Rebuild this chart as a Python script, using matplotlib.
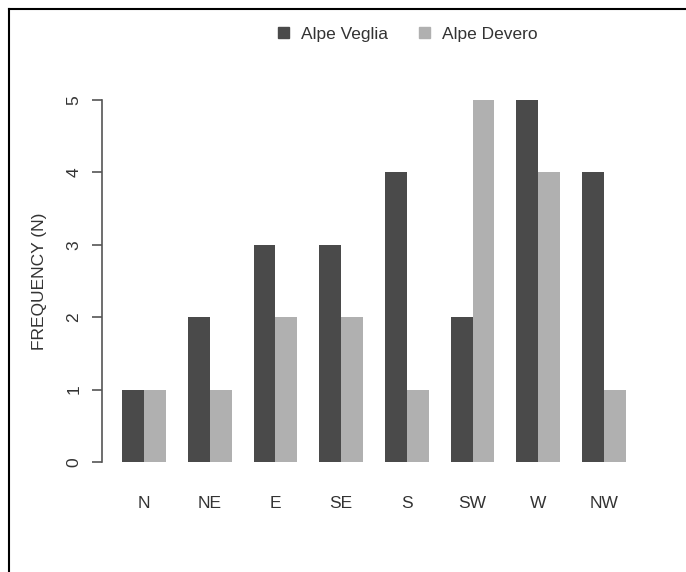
import matplotlib.pyplot as plt
import matplotlib.patches as mpatches
from matplotlib.lines import Line2D
import numpy as np

plt.rcParams['font.family'] = ['Liberation Sans', 'DejaVu Sans']

# Data
directions = ['N', 'NE', 'E', 'SE', 'S', 'SW', 'W', 'NW']
veglia = [1, 2, 3, 3, 4, 2, 5, 4]
devero = [1, 1, 2, 2, 1, 5, 4, 1]
series_names = ['Alpe Veglia', 'Alpe Devero']

dark = '#4a4a4a'
light = '#b0b0b0'
text_color = '#333333'

W, H = 686, 572
fig = plt.figure(figsize=(W / 100, H / 100), dpi=100)

# axes placed in pixel terms (R-like barplot region)
left_px, right_px = 102, 646
top_px, bot_px = 85.5, 476.5
ax = fig.add_axes([left_px / W, 1 - bot_px / H,
                   (right_px - left_px) / W, (bot_px - top_px) / H])

# R barplot beside=TRUE, space=c(0,1): bar width 1, gap of 1 between groups
n = len(directions)
group_start = 1 + 3 * np.arange(n)
ax.bar(group_start, veglia, width=1, align='edge', color=dark, linewidth=0)
ax.bar(group_start + 1, devero, width=1, align='edge', color=light, linewidth=0)

ax.set_xlim(0.08, 24.92)
ax.set_ylim(-0.2, 5.2)

for s in ['top', 'right', 'bottom']:
    ax.spines[s].set_visible(False)
ax.spines['left'].set_bounds(0, 5)
ax.spines['left'].set_color('#555555')
ax.spines['left'].set_linewidth(1.2)

ax.set_yticks(range(6))
ax.set_yticklabels([str(i) for i in range(6)], rotation=90, va='center',
                   fontsize=12.5, color=text_color)
ax.tick_params(axis='y', length=7, width=1.2, color='#555555', pad=8)

ax.set_xticks(group_start + 1)
ax.set_xticklabels(directions, fontsize=12.5, color=text_color)
ax.tick_params(axis='x', length=0, pad=14)

ax.set_ylabel('FREQUENCY (N)', fontsize=12.5, color=text_color, labelpad=14)

# legend across the top
handles = [mpatches.Patch(color=dark, label=series_names[0]),
           mpatches.Patch(color=light, label=series_names[1])]
fig.legend(handles=handles, loc='center', bbox_to_anchor=(408 / W, 1 - 34 / H),
           ncol=2, frameon=False, fontsize=12.5, handlelength=0.6,
           handleheight=0.6, handletextpad=0.7, columnspacing=1.8,
           labelcolor=text_color)

# frame lines along top and left edge
fig.add_artist(Line2D([9 / W, 1], [1 - 9 / H, 1 - 9 / H], color='black',
                      linewidth=1.5, transform=fig.transFigure))
fig.add_artist(Line2D([9 / W, 9 / W], [0, 1 - 9 / H], color='black',
                      linewidth=1.5, transform=fig.transFigure))

fig.savefig('out.png', dpi=100, facecolor='white')
